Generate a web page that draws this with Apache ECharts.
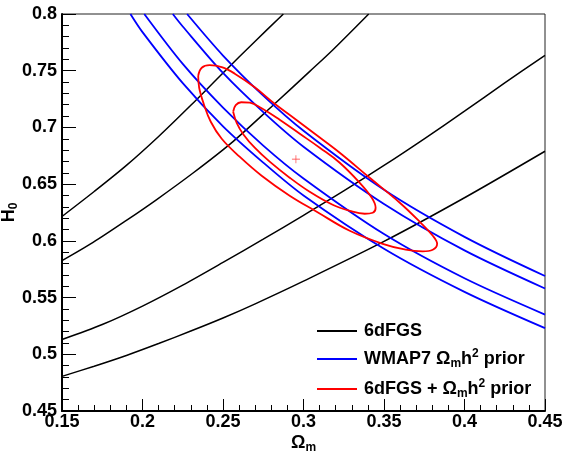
<!DOCTYPE html>
<html>
<head>
<meta charset="utf-8">
<script src="https://cdn.jsdelivr.net/npm/echarts@6.0.0/dist/echarts.min.js"></script>
<style>
  html, body { margin: 0; padding: 0; background: #fff; }
  #main { width: 565px; height: 453px; }
</style>
</head>
<body>
<div id="main"></div>
<script>
// axis ranges (Omega_m, H0)
var xRange = [0.15, 0.45]
var yRange = [0.45, 0.8]

// 6dFGS contours (black)
var dfgsA = [[0.15, 0.6215], [0.17, 0.6435], [0.19, 0.6665], [0.21, 0.692], [0.23, 0.7195], [0.25, 0.748], [0.27, 0.776], [0.2875, 0.8]]
var dfgsB = [[0.15, 0.5825], [0.1693, 0.5986], [0.19, 0.618], [0.2086, 0.6362], [0.2314, 0.6598], [0.2562, 0.6875], [0.2811, 0.7195], [0.3039, 0.7494], [0.3183, 0.7685], [0.3405, 0.8]]
var dfgsC = [[0.15, 0.513], [0.175, 0.5262], [0.2, 0.5425], [0.225, 0.561], [0.25, 0.581], [0.275, 0.6015], [0.3, 0.6225], [0.325, 0.644], [0.35, 0.6665], [0.375, 0.69], [0.4, 0.7143], [0.425, 0.7393], [0.45, 0.7635]]
var dfgsD = [[0.15, 0.4805], [0.17, 0.4895], [0.19, 0.499], [0.21, 0.5095], [0.23, 0.5205], [0.25, 0.532], [0.27, 0.5445], [0.3, 0.5645], [0.35, 0.5995], [0.4, 0.638], [0.45, 0.679]]

// WMAP7 Omega_m h^2 prior (blue)
var wmap1 = [[0.1925, 0.8], [0.2, 0.784], [0.225, 0.739], [0.25, 0.701], [0.275, 0.669], [0.3, 0.640], [0.35, 0.593], [0.4, 0.555], [0.45, 0.523]]
var wmap2 = [[0.2011, 0.8], [0.225, 0.756], [0.25, 0.7175], [0.275, 0.684], [0.3, 0.655], [0.35, 0.606], [0.4, 0.567], [0.45, 0.535]]
var wmap3 = [[0.2188, 0.8], [0.225, 0.789], [0.25, 0.748], [0.275, 0.7135], [0.3, 0.683], [0.35, 0.6325], [0.4, 0.5916], [0.45, 0.558]]
var wmap4 = [[0.2277, 0.8], [0.25, 0.7634], [0.275, 0.728], [0.3, 0.697], [0.35, 0.645], [0.4, 0.6035], [0.45, 0.569]]

// combined contours (red)
var combOuter = [[0.2346, 0.7456], [0.2368, 0.7526], [0.2417, 0.7549], [0.2492, 0.7531], [0.2573, 0.7474], [0.2697, 0.7354],
  [0.2821, 0.7209], [0.2946, 0.7077], [0.3070, 0.6944], [0.3225, 0.6777], [0.3411, 0.6556], [0.3598, 0.6336],
  [0.3722, 0.6168], [0.3803, 0.6045], [0.3830, 0.5974], [0.3803, 0.5922], [0.3740, 0.5908], [0.3635, 0.5922],
  [0.3492, 0.5974], [0.3287, 0.6089], [0.3082, 0.6257], [0.2914, 0.6398], [0.2740, 0.6574], [0.2603, 0.6742],
  [0.2492, 0.6900], [0.2424, 0.7050], [0.2380, 0.7209], [0.2352, 0.7350], [0.2346, 0.7456]]
var combInner = [[0.2563, 0.7138], [0.2579, 0.7196], [0.2613, 0.7222], [0.2666, 0.7218], [0.2740, 0.7169], [0.2852, 0.7068],
  [0.2977, 0.6944], [0.3101, 0.6821], [0.3225, 0.6689], [0.3349, 0.6512], [0.3424, 0.6380], [0.3448, 0.6292],
  [0.3430, 0.6248], [0.3380, 0.6239], [0.3287, 0.6265], [0.3181, 0.6318], [0.3038, 0.6433], [0.2914, 0.6557],
  [0.2790, 0.6698], [0.2697, 0.6821], [0.2628, 0.6936], [0.2585, 0.7041], [0.2563, 0.7138]]
var bestFit = [[0.2953, 0.672]]

var legendNames = ['6dFGS', 'WMAP7', '6dFGS + prior']
var legendTexts = {
  '6dFGS': '{t|6dFGS}',
  'WMAP7': '{t|WMAP7 Ω}{s|m}{t|h}{p|2}{t| prior}',
  '6dFGS + prior': '{t|6dFGS + Ω}{s|m}{t|h}{p|2}{t| prior}'
}

var font = 'Liberation Sans, Arial, Helvetica, sans-serif'
var richText = {
  t: { fontFamily: font, fontWeight: 'bold', fontSize: 18, color: '#000', lineHeight: 22, verticalAlign: 'middle' },
  s: { fontFamily: font, fontWeight: 'bold', fontSize: 12, color: '#000', lineHeight: 10, verticalAlign: 'bottom' },
  p: { fontFamily: font, fontWeight: 'bold', fontSize: 12, color: '#000', lineHeight: 10, verticalAlign: 'top' }
}

var mkLine = function(name, data, color, width, smooth) {
  return {
    type: 'line',
    name: name,
    data: data,
    symbol: 'none',
    smooth: smooth,
    clip: true,
    color: color,
    lineStyle: { color: color, width: width },
    z: 2
  }
}

var chart = echarts.init(document.getElementById('main'))
var option = {
  animation: false,
  backgroundColor: '#fff',
  grid: {
    left: 62, right: 20, top: 14, bottom: 42,
    outerBoundsMode: 'none',
    containLabel: false,
    show: true, borderColor: '#222', borderWidth: 1, backgroundColor: 'transparent'
  },
  legend: {
    data: legendNames,
    orient: 'vertical',
    left: 312,
    top: 317,
    itemWidth: 40,
    itemHeight: 2,
    itemGap: 8,
    icon: 'rect',
    formatter: function(n) { return legendTexts[n] },
    textStyle: { rich: richText, padding: [0, 0, 0, 2] }
  },
  xAxis: {
    type: 'value',
    min: xRange[0], max: xRange[1], interval: 0.05,
    name: '{t|Ω}{s|m}',
    nameLocation: 'middle',
    nameGap: 21,
    nameMoveOverlap: false,
    nameTextStyle: { rich: richText },
    axisLine: { show: true, onZero: false, lineStyle: { color: '#000', width: 2 } },
    axisTick: { show: true, inside: true, length: 12, lineStyle: { color: '#000', width: 1 } },
    minorTick: { show: true, splitNumber: 5, length: 6, lineStyle: { color: '#000', width: 1 } },
    splitLine: { show: false },
    axisLabel: { margin: 2, color: '#000', fontFamily: font, fontWeight: 'bold', fontSize: 18, showMinLabel: true, showMaxLabel: true }
  },
  yAxis: {
    type: 'value',
    min: yRange[0], max: yRange[1], interval: 0.05,
    name: '{t|H}{s|0}',
    nameLocation: 'middle',
    nameGap: 42,
    nameMoveOverlap: false,
    nameRotate: 90,
    nameTextStyle: { rich: richText },
    axisLine: { show: true, onZero: false, lineStyle: { color: '#000', width: 2 } },
    axisTick: { show: true, inside: true, length: 14, lineStyle: { color: '#000', width: 1 } },
    minorTick: { show: true, splitNumber: 5, length: 7, lineStyle: { color: '#000', width: 1 } },
    splitLine: { show: false },
    axisLabel: { margin: 5, color: '#000', fontFamily: font, fontWeight: 'bold', fontSize: 18, showMinLabel: true, showMaxLabel: true }
  },
  series: [
    mkLine('6dFGS', dfgsA, '#000', 1.5, 0.3),
    mkLine('6dFGS', dfgsB, '#000', 1.5, 0.3),
    mkLine('6dFGS', dfgsC, '#000', 1.5, 0.3),
    mkLine('6dFGS', dfgsD, '#000', 1.5, 0.3),
    mkLine('WMAP7', wmap1, '#0000ff', 1.8, 0.3),
    mkLine('WMAP7', wmap2, '#0000ff', 1.8, 0.3),
    mkLine('WMAP7', wmap3, '#0000ff', 1.8, 0.3),
    mkLine('WMAP7', wmap4, '#0000ff', 1.8, 0.3),
    mkLine('6dFGS + prior', combOuter, '#ff0000', 1.8, 0.4),
    mkLine('6dFGS + prior', combInner, '#ff0000', 1.8, 0.4),
    {
      type: 'scatter',
      name: 'best',
      data: bestFit,
      symbol: 'path://M-0.08,-1 L0.08,-1 L0.08,1 L-0.08,1 Z M-1,-0.08 L1,-0.08 L1,0.08 L-1,0.08 Z',
      symbolSize: 8,
      itemStyle: { color: '#ff0000' },
      z: 3
    }
  ]
}
chart.setOption(option)
</script>
</body>
</html>
